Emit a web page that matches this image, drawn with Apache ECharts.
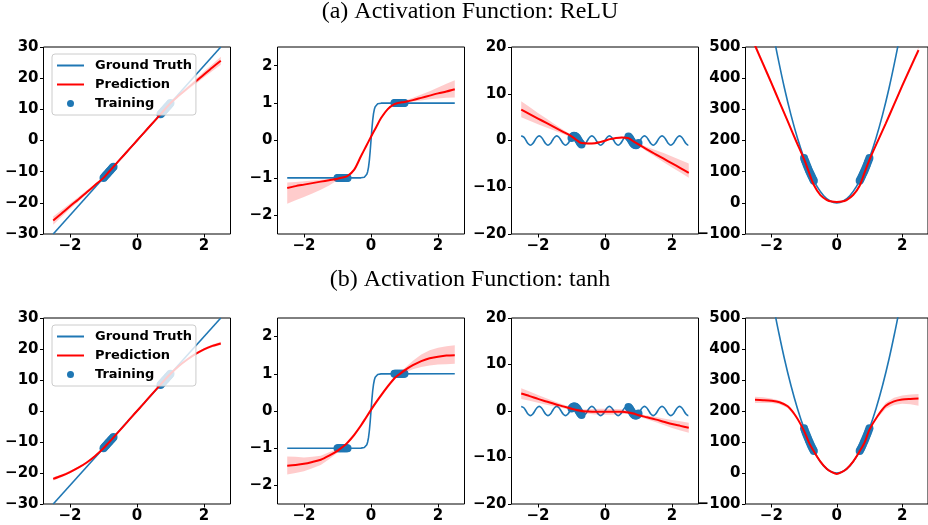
<!DOCTYPE html>
<html><head><meta charset="utf-8">
<script src="https://cdn.jsdelivr.net/npm/echarts@6/dist/echarts.min.js"></script>
<style>html,body{margin:0;padding:0;background:#fff}#c{width:928px;height:525px}</style>
</head><body><div id="c"></div>
<script>
// ---------- tick labels ----------
const xTicks = [-2, 0, 2];
const yTicksLin = [-30, -20, -10, 0, 10, 20, 30];
const yTicksStep = [-2, -1, 0, 1, 2];
const yTicksSin = [-20, -10, 0, 10, 20];
const yTicksQuad = [-100, 0, 100, 200, 300, 400, 500];

// ---------- ground truth ----------
const gtLin = [[-2.5, -30], [2.5, 30]];
const gtStep = [[-2.5,-1],[-0.3,-0.998],[-0.25,-0.995],[-0.2,-0.983],[-0.15,-0.947],[-0.125,-0.905],[-0.1,-0.834],[-0.075,-0.716],[-0.05,-0.537],[-0.025,-0.291],[0,0],[0.025,0.291],[0.05,0.537],[0.075,0.716],[0.1,0.834],[0.125,0.905],[0.15,0.947],[0.2,0.983],[0.25,0.995],[0.3,0.998],[2.5,1]];
const gtSin = [[-2.5,0.988],[-2.487,1],[-2.422,0.707],[-2.356,0],[-2.291,-0.707],[-2.225,-1],[-2.16,-0.707],[-2.094,0],[-2.029,0.707],[-1.963,1],[-1.898,0.707],[-1.833,0],[-1.767,-0.707],[-1.702,-1],[-1.636,-0.707],[-1.571,0],[-1.505,0.707],[-1.44,1],[-1.374,0.707],[-1.309,0],[-1.244,-0.707],[-1.178,-1],[-1.113,-0.707],[-1.047,0],[-0.982,0.707],[-0.916,1],[-0.851,0.707],[-0.785,0],[-0.72,-0.707],[-0.654,-1],[-0.589,-0.707],[-0.524,0],[-0.458,0.707],[-0.393,1],[-0.327,0.707],[-0.262,0],[-0.196,-0.707],[-0.131,-1],[-0.065,-0.707],[0,0],[0.065,0.707],[0.131,1],[0.196,0.707],[0.262,0],[0.327,-0.707],[0.393,-1],[0.458,-0.707],[0.524,0],[0.589,0.707],[0.654,1],[0.72,0.707],[0.785,0],[0.851,-0.707],[0.916,-1],[0.982,-0.707],[1.047,0],[1.113,0.707],[1.178,1],[1.244,0.707],[1.309,0],[1.374,-0.707],[1.44,-1],[1.505,-0.707],[1.571,0],[1.636,0.707],[1.702,1],[1.767,0.707],[1.833,0],[1.898,-0.707],[1.963,-1],[2.029,-0.707],[2.094,0],[2.16,0.707],[2.225,1],[2.291,0.707],[2.356,0],[2.422,-0.707],[2.487,-1],[2.5,-0.988]];
const gtQuad = [[-1.9,519.8],[-1.8,466.6],[-1.6,368.6],[-1.4,282.2],[-1.2,207.4],[-1,144],[-0.8,92.2],[-0.6,51.8],[-0.4,23],[-0.2,5.8],[0,0],[0.2,5.8],[0.4,23],[0.6,51.8],[0.8,92.2],[1,144],[1.2,207.4],[1.4,282.2],[1.6,368.6],[1.8,466.6],[1.9,519.8]];

// ---------- training points ----------
const trainX = [-1,-0.975,-0.95,-0.925,-0.9,-0.875,-0.85,-0.825,-0.8,-0.775,-0.75,-0.725,-0.7,0.7,0.725,0.75,0.775,0.8,0.825,0.85,0.875,0.9,0.925,0.95,0.975,1];
const trainLin = [-12,-11.7,-11.4,-11.1,-10.8,-10.5,-10.2,-9.9,-9.6,-9.3,-9,-8.7,-8.4,8.4,8.7,9,9.3,9.6,9.9,10.2,10.5,10.8,11.1,11.4,11.7,12];
const trainStep = [-1,-1,-1,-1,-1,-1,-1,-1,-1,-1,-1,-1,-1,1,1,1,1,1,1,1,1,1,1,1,1,1];
const trainSin = [0.537,0.762,0.919,0.994,0.981,0.88,0.7,0.458,0.174,-0.124,-0.412,-0.663,-0.855,0.855,0.663,0.412,0.124,-0.174,-0.458,-0.7,-0.88,-0.981,-0.994,-0.919,-0.762,-0.537];
const trainQuad = [144,136.9,130,123.2,116.6,110.3,104,98,92.2,86.5,81,75.7,70.6,70.6,75.7,81,86.5,92.2,98,104,110.3,116.6,123.2,130,136.9,144];

// ---------- predictions (mean, upper, lower) ----------
const predX = [-2.5,-2.25,-2,-1.75,-1.5,-1.25,-1,-0.85,-0.7,-0.5,-0.3,-0.15,0,0.15,0.3,0.5,0.7,0.85,1,1.25,1.5,1.75,2,2.25,2.5];

const reluLinPred = [-25.7,-23.4,-21.1,-18.9,-16.6,-14.3,-12,-10.2,-8.4,-6,-3.6,-1.8,0,1.8,3.6,6,8.4,10.2,12,14.4,16.7,18.9,21.2,23.4,25.6];
const reluLinHi = [-24.4,-22.3,-20.2,-18.15,-16,-13.9,-11.8,-10.05,-8.3,-5.85,-3.4,-1.6,0.2,2,3.8,6.15,8.5,10.35,12.2,14.8,17.3,19.65,22.1,24.5,26.9];
const reluLinLo = [-27,-24.5,-22,-19.65,-17.2,-14.7,-12.2,-10.35,-8.5,-6.15,-3.8,-2,-0.2,1.6,3.4,5.85,8.3,10.05,11.8,14,16.1,18.15,20.3,22.3,24.3];

const reluStepPred = [-1.27,-1.22,-1.18,-1.14,-1.1,-1.06,-1.02,-0.99,-0.95,-0.78,-0.42,-0.16,0.1,0.35,0.6,0.84,0.97,1.01,1.03,1.08,1.14,1.2,1.26,1.31,1.37];
const reluStepHi = [-1.12,-1.11,-1.09,-1.07,-1.05,-1.03,-1,-0.97,-0.92,-0.75,-0.39,-0.13,0.13,0.38,0.63,0.87,0.99,1.03,1.06,1.14,1.23,1.32,1.42,1.52,1.61];
const reluStepLo = [-1.69,-1.6,-1.51,-1.42,-1.32,-1.2,-1.06,-1.01,-0.98,-0.81,-0.45,-0.19,0.07,0.32,0.57,0.81,0.95,0.99,1,1.04,1.07,1.1,1.12,1.14,1.15];

const reluSinPred = [6.6,5.65,4.7,3.75,2.8,1.85,0.9,0.1,-0.55,-0.65,-0.58,-0.35,-0.05,0.3,0.5,0.65,0.5,-0.2,-0.85,-1.9,-2.9,-3.9,-4.9,-5.9,-6.9];
const reluSinHi = [8.4,7.15,5.9,4.7,3.5,2.3,1.15,0.3,-0.35,-0.45,-0.38,-0.15,0.15,0.5,0.7,0.85,0.7,0,-0.6,-1.4,-2.05,-2.7,-3.4,-4.15,-4.9];
const reluSinLo = [5,4.2,3.5,2.8,2.1,1.4,0.65,-0.1,-0.75,-0.85,-0.78,-0.55,-0.25,0.1,0.3,0.45,0.3,-0.4,-1.1,-2.35,-3.5,-4.65,-5.75,-6.85,-7.95];

const reluQuadPred = [505,445,385,323,262,200,140,98,57,25,9,4,3,4,9,25,55,97,138,197,255,315,375,433,490];
const reluQuadHi = [514,453,392,329,267,204,143,100,59,27,11,6,5,6,11,27,57,99,141,201,260,321,382,441,499];
const reluQuadLo = [496,437,378,317,257,196,137,96,55,23,7,2,1,2,7,23,53,95,135,193,250,309,368,425,481];

const tanhLinPred = [-21.9,-20.9,-19.7,-18.3,-16.6,-14.5,-12,-10.3,-8.5,-6.1,-3.65,-1.8,0,1.8,3.65,6.1,8.5,10.3,12,14.5,16.6,18.4,19.9,21,21.8];
const tanhLinHi = [-21.4,-20.45,-19.3,-17.95,-16.3,-14.25,-11.8,-10.15,-8.4,-6,-3.55,-1.7,0.1,1.9,3.75,6.2,8.6,10.45,12.2,14.75,16.9,18.75,20.3,21.45,22.3];
const tanhLinLo = [-22.4,-21.35,-20.1,-18.65,-16.9,-14.75,-12.2,-10.45,-8.6,-6.2,-3.75,-1.9,-0.1,1.7,3.55,6,8.4,10.15,11.8,14.25,16.3,18.05,19.5,20.55,21.3];

const tanhStepPred = [-1.47,-1.45,-1.42,-1.37,-1.31,-1.2,-1.07,-0.97,-0.85,-0.64,-0.39,-0.18,0.03,0.23,0.42,0.66,0.88,0.99,1.09,1.23,1.34,1.42,1.46,1.49,1.5];
const tanhStepHi = [-1.22,-1.23,-1.25,-1.23,-1.2,-1.11,-1.02,-0.94,-0.8,-0.59,-0.34,-0.13,0.08,0.28,0.47,0.71,0.92,1.03,1.15,1.35,1.52,1.63,1.7,1.74,1.77];
const tanhStepLo = [-1.71,-1.67,-1.62,-1.54,-1.45,-1.3,-1.12,-1,-0.9,-0.69,-0.44,-0.23,-0.02,0.18,0.37,0.61,0.84,0.95,1.03,1.12,1.18,1.22,1.25,1.26,1.27];

const tanhSinPred = [3.75,3.2,2.6,2.05,1.5,1,0.5,0.2,0,-0.1,-0.15,-0.15,-0.15,-0.15,-0.15,-0.15,-0.3,-0.55,-0.9,-1.35,-1.8,-2.3,-2.8,-3.2,-3.6];
const tanhSinHi = [4.9,4.2,3.45,2.75,2.05,1.4,0.8,0.5,0.35,0.4,0.45,0.5,0.5,0.5,0.45,0.35,0.05,-0.25,-0.6,-0.95,-1.25,-1.6,-1.95,-2.2,-2.5];
const tanhSinLo = [2.6,2.2,1.75,1.35,0.95,0.6,0.2,-0.1,-0.35,-0.6,-0.75,-0.8,-0.8,-0.8,-0.75,-0.65,-0.65,-0.85,-1.2,-1.75,-2.35,-3,-3.65,-4.2,-4.7];

const tanhQuadPred = [236,235,233,228,215,183,136,98,70,37,13,3,-3,3,13,37,70,98,140,184,217,231,237,239,240];
const tanhQuadHi = [246,244,240,234,220,187,139,100,72,39,15,5,-1,5,15,39,72,101,143,190,227,243,250,253,255];
const tanhQuadLo = [226,226,226,222,210,179,133,96,68,35,11,1,-5,1,11,35,68,95,137,178,207,219,223,222,217];

// ---------- build chart ----------
const BLUE = '#1f77b4', RED = '#ff0000';
const panels = [
  {gt: gtLin, smooth: false, yr: [-30, 30], yt: yTicksLin, tr: trainLin, p: reluLinPred, hi: reluLinHi, lo: reluLinLo},
  {gt: gtStep, smooth: false, yr: [-2.5, 2.5], yt: yTicksStep, tr: trainStep, p: reluStepPred, hi: reluStepHi, lo: reluStepLo},
  {gt: gtSin, smooth: 0.4, yr: [-20, 20], yt: yTicksSin, tr: trainSin, p: reluSinPred, hi: reluSinHi, lo: reluSinLo},
  {gt: gtQuad, smooth: 0.4, yr: [-100, 500], yt: yTicksQuad, tr: trainQuad, p: reluQuadPred, hi: reluQuadHi, lo: reluQuadLo},
  {gt: gtLin, smooth: false, yr: [-30, 30], yt: yTicksLin, tr: trainLin, p: tanhLinPred, hi: tanhLinHi, lo: tanhLinLo},
  {gt: gtStep, smooth: false, yr: [-2.5, 2.5], yt: yTicksStep, tr: trainStep, p: tanhStepPred, hi: tanhStepHi, lo: tanhStepLo},
  {gt: gtSin, smooth: 0.4, yr: [-20, 20], yt: yTicksSin, tr: trainSin, p: tanhSinPred, hi: tanhSinHi, lo: tanhSinLo},
  {gt: gtQuad, smooth: 0.4, yr: [-100, 500], yt: yTicksQuad, tr: trainQuad, p: tanhQuadPred, hi: tanhQuadHi, lo: tanhQuadLo}
];
const colLeft = [43.5, 277.5, 511.5, 745.5];
const rowTop = [47, 318];
const rowH = [187, 186];
const fmt = v => String(v).replace('-', '\u2212');
const labelStyle = {fontFamily: 'DejaVu Sans', fontWeight: 'bold', fontSize: 15, color: '#000'};

const grid = [], xAxis = [], yAxis = [], series = [];
panels.forEach((pn, i) => {
  const r = Math.floor(i / 4), c = i % 4;
  grid.push({left: colLeft[c], top: rowTop[r], width: 187, height: rowH[r], show: true,
    borderColor: '#000', borderWidth: 1, backgroundColor: 'transparent', containLabel: false});
  xAxis.push({type: 'value', gridIndex: i, min: -2.79, max: 2.79, position: 'bottom',
    axisLine: {show: false, onZero: false}, splitLine: {show: false},
    axisTick: {show: true, customValues: xTicks, length: 3.5, lineStyle: {color: '#000', width: 1}},
    axisLabel: Object.assign({customValues: xTicks, formatter: fmt, margin: 5}, labelStyle)});
  yAxis.push({type: 'value', gridIndex: i, min: pn.yr[0], max: pn.yr[1], position: 'left',
    axisLine: {show: false, onZero: false}, splitLine: {show: false},
    axisTick: {show: true, customValues: pn.yt, length: 3.5, lineStyle: {color: '#000', width: 1}},
    axisLabel: Object.assign({customValues: pn.yt, formatter: fmt, margin: 5}, labelStyle)});
  series.push({type: 'line', name: 'Ground Truth', xAxisIndex: i, yAxisIndex: i, data: pn.gt,
    smooth: pn.smooth, symbol: 'none', showSymbol: false, z: 2, clip: true,
    lineStyle: {color: BLUE, width: 1.6}, itemStyle: {color: BLUE}, silent: true});
  series.push({type: 'scatter', name: 'Training', xAxisIndex: i, yAxisIndex: i,
    data: trainX.map((x, j) => [x, pn.tr[j]]), symbol: 'circle', symbolSize: 8, z: 3,
    itemStyle: {color: BLUE, opacity: 1}, silent: true});
  series.push({type: 'custom', name: 'band', xAxisIndex: i, yAxisIndex: i, data: [[0, 0]], z: 4, silent: true,
    renderItem: (params, api) => {
      const pts = [];
      for (let j = 0; j < predX.length; j++) pts.push(api.coord([predX[j], pn.hi[j]]));
      for (let j = predX.length - 1; j >= 0; j--) pts.push(api.coord([predX[j], pn.lo[j]]));
      const cs = params.coordSys;
      return {type: 'polygon', shape: {points: pts, smooth: 0},
        style: {fill: 'rgba(255,0,0,0.2)', stroke: null},
        clipPath: {type: 'rect', shape: {x: cs.x, y: cs.y, width: cs.width, height: cs.height}}};
    }});
  series.push({type: 'line', name: 'Prediction', xAxisIndex: i, yAxisIndex: i,
    data: predX.map((x, j) => [x, pn.p[j]]), smooth: 0.3, symbol: 'none', showSymbol: false, z: 5, clip: true,
    lineStyle: {color: RED, width: 2}, itemStyle: {color: RED}, silent: true});
});

const lineIcon = 'path://M0,0 L27,0 L27,2 L0,2 Z';
const legendCommon = {
  orient: 'vertical', left: 52, itemWidth: 27, itemHeight: 7, itemGap: 4, z: 20,
  selectedMode: false, backgroundColor: 'rgba(255,255,255,0.8)', borderColor: '#cccccc', borderWidth: 1,
  borderRadius: 3, padding: [4, 4, 4, 5],
  textStyle: {fontFamily: 'DejaVu Sans', fontWeight: 'bold', fontSize: 13, color: '#000', lineHeight: 15, padding: [0, 0, 0, 6]},
  data: [{name: 'Ground Truth', icon: lineIcon}, {name: 'Prediction', icon: lineIcon}, {name: 'Training', icon: 'circle'}]
};

const titleStyle = {fontFamily: 'Liberation Serif', fontWeight: 'normal', fontSize: 24, color: '#000',
  rich: {f: {fontFamily: 'Liberation Serif', fontSize: 24, color: '#000'}}};
const option = {
  backgroundColor: '#ffffff',
  animation: false,
  title: [
    {text: '(a) Activation Function: {f|ReLU}', left: 470, top: 0, textAlign: 'center', padding: 0, textStyle: titleStyle},
    {text: '(b) Activation Function: {f|tanh}', left: 470, top: 268, textAlign: 'center', padding: 0, textStyle: titleStyle}
  ],
  legend: [Object.assign({top: 54}, legendCommon), Object.assign({top: 325}, legendCommon)],
  grid, xAxis, yAxis, series
};
const chart = echarts.init(document.getElementById('c'), null, {renderer: 'canvas'});
chart.setOption(option);
</script></body></html>
